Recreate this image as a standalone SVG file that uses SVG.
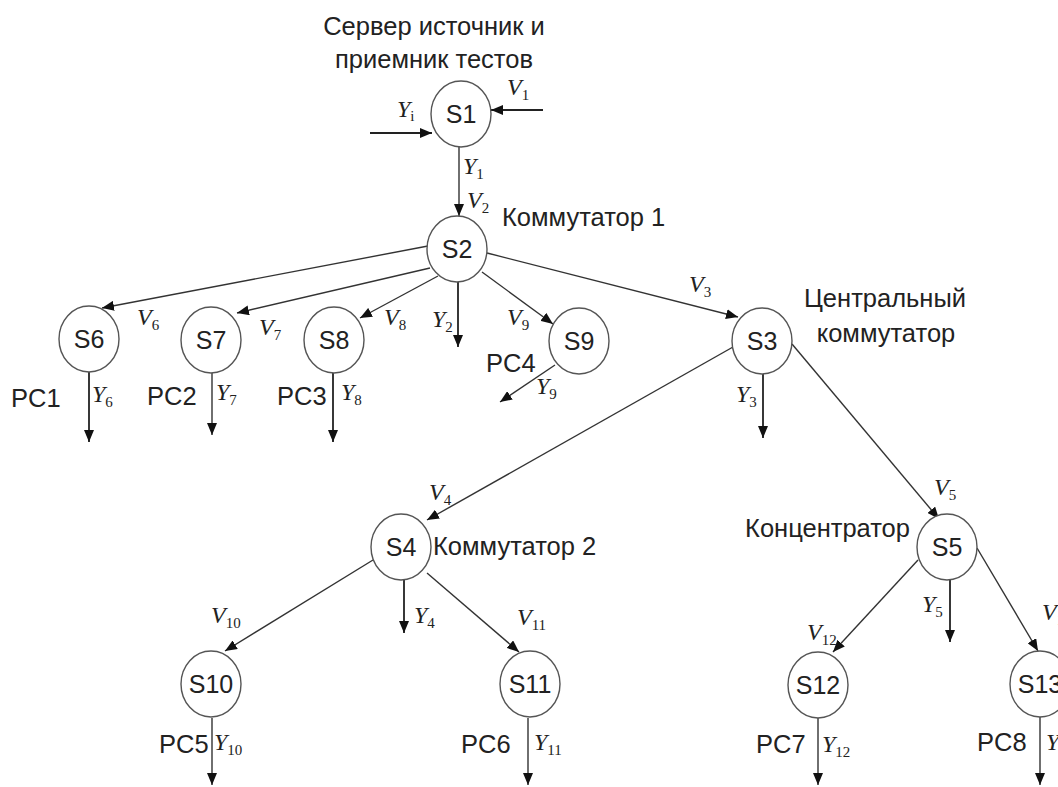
<svg xmlns="http://www.w3.org/2000/svg" width="1058" height="787" viewBox="0 0 1058 787">
<defs>
<marker id="ah" markerUnits="userSpaceOnUse" markerWidth="12" markerHeight="10" refX="12" refY="5" orient="auto">
<path d="M0,0 L12,5 L0,10 z" fill="#111"/>
</marker>
<style>
.node ellipse{fill:#fff;stroke:#555;stroke-width:1.4}
.node text{font-family:"Liberation Sans",Arial,sans-serif;font-size:25px;fill:#222;text-anchor:middle}
.lbl{font-family:"Liberation Sans",Arial,sans-serif;font-size:25.5px;fill:#222}
.m{font-family:"Liberation Serif","Times New Roman",serif;font-style:italic;font-size:24px;fill:#222}
.m tspan{font-style:normal;font-size:15px}
#connectors line{stroke:#333;stroke-width:1.4;marker-end:url(#ah)}
#connectors line.out{stroke:#222;stroke-width:1.8}
</style>
</defs>
<rect width="1058" height="787" fill="#fff"/>

<g id="connectors">
<line x1="370" y1="133" x2="432" y2="133" class="out"/>
<line x1="543" y1="110" x2="491" y2="110" class="out"/>
<line x1="459" y1="147" x2="459" y2="216"/>
<line x1="428" y1="246" x2="102" y2="308"/>
<line x1="430" y1="268" x2="237" y2="313"/>
<line x1="438" y1="276" x2="360" y2="318"/>
<line x1="458" y1="282" x2="458" y2="347" class="out"/>
<line x1="482" y1="272" x2="553" y2="324"/>
<line x1="487" y1="253" x2="738" y2="317"/>
<line x1="89" y1="372" x2="89" y2="442" class="out"/>
<line x1="212" y1="373" x2="212" y2="435"/>
<line x1="333" y1="373" x2="333" y2="442" class="out"/>
<line x1="555" y1="365" x2="500" y2="402"/>
<line x1="763" y1="374" x2="763" y2="438" class="out"/>
<line x1="733" y1="347" x2="427" y2="520"/>
<line x1="792" y1="344" x2="939" y2="519"/>
<line x1="373" y1="560" x2="225" y2="651"/>
<line x1="404" y1="580" x2="404" y2="633" class="out"/>
<line x1="427" y1="573" x2="519" y2="652"/>
<line x1="918" y1="560" x2="833" y2="652"/>
<line x1="950" y1="580" x2="950" y2="642" class="out"/>
<line x1="977" y1="548" x2="1038" y2="651"/>
<line x1="212" y1="718" x2="212" y2="785"/>
<line x1="528" y1="718" x2="528" y2="785"/>
<line x1="818" y1="718" x2="818" y2="785"/>
<line x1="1040" y1="717" x2="1040" y2="785"/>
</g>

<g id="S1" class="node"><ellipse cx="461" cy="114" rx="30" ry="33"/><text x="461" y="123">S1</text></g>
<g id="S2" class="node"><ellipse cx="457" cy="249" rx="30" ry="33"/><text x="457" y="258">S2</text></g>
<g id="S3" class="node"><ellipse cx="762" cy="341" rx="30" ry="33"/><text x="762" y="350">S3</text></g>
<g id="S4" class="node"><ellipse cx="401" cy="547" rx="30" ry="33"/><text x="401" y="556">S4</text></g>
<g id="S5" class="node"><ellipse cx="947" cy="547" rx="30" ry="33"/><text x="947" y="556">S5</text></g>
<g id="S6" class="node"><ellipse cx="89" cy="339" rx="30" ry="33"/><text x="89" y="348">S6</text></g>
<g id="S7" class="node"><ellipse cx="211" cy="340" rx="30" ry="33"/><text x="211" y="349">S7</text></g>
<g id="S8" class="node"><ellipse cx="334" cy="340" rx="30" ry="33"/><text x="334" y="349">S8</text></g>
<g id="S9" class="node"><ellipse cx="579" cy="341" rx="30" ry="33"/><text x="579" y="350">S9</text></g>
<g id="S10" class="node"><ellipse cx="211" cy="684" rx="30" ry="33"/><text x="211" y="693">S10</text></g>
<g id="S11" class="node"><ellipse cx="530" cy="684" rx="30" ry="33"/><text x="530" y="693">S11</text></g>
<g id="S12" class="node"><ellipse cx="818" cy="685" rx="30" ry="33"/><text x="818" y="694">S12</text></g>
<g id="S13" class="node"><ellipse cx="1040" cy="684" rx="30" ry="33"/><text x="1040" y="693">S13</text></g>

<g id="labels">
<text class="lbl" x="434" y="35" text-anchor="middle">Сервер источник и</text>
<text class="lbl" x="434" y="68" text-anchor="middle">приемник тестов</text>
<text class="lbl" x="502" y="226">Коммутатор 1</text>
<text class="lbl" x="885" y="307" text-anchor="middle">Центральный</text>
<text class="lbl" x="886" y="342" text-anchor="middle">коммутатор</text>
<text class="lbl" x="433" y="555">Коммутатор 2</text>
<text class="lbl" x="910" y="537" text-anchor="end">Концентратор</text>
<text class="lbl" x="11" y="407">PC1</text>
<text class="lbl" x="147" y="405">PC2</text>
<text class="lbl" x="277" y="405">PC3</text>
<text class="lbl" x="486" y="372">PC4</text>
<text class="lbl" x="159" y="753">PC5</text>
<text class="lbl" x="461" y="753">PC6</text>
<text class="lbl" x="756" y="753">PC7</text>
<text class="lbl" x="977" y="751">PC8</text>
</g>

<g id="math">
<text class="m" x="397" y="117">Y<tspan dy="4">i</tspan></text>
<text class="m" x="507" y="95">V<tspan dy="5">1</tspan></text>
<text class="m" x="463" y="174">Y<tspan dy="5">1</tspan></text>
<text class="m" x="467" y="208">V<tspan dy="5">2</tspan></text>
<text class="m" x="137" y="325">V<tspan dy="5">6</tspan></text>
<text class="m" x="259" y="335">V<tspan dy="5">7</tspan></text>
<text class="m" x="384" y="325">V<tspan dy="5">8</tspan></text>
<text class="m" x="432" y="327">Y<tspan dy="5">2</tspan></text>
<text class="m" x="507" y="325">V<tspan dy="5">9</tspan></text>
<text class="m" x="689" y="292">V<tspan dy="5">3</tspan></text>
<text class="m" x="536" y="394">Y<tspan dy="5">9</tspan></text>
<text class="m" x="736" y="402">Y<tspan dy="5">3</tspan></text>
<text class="m" x="92" y="402">Y<tspan dy="5">6</tspan></text>
<text class="m" x="216" y="400">Y<tspan dy="5">7</tspan></text>
<text class="m" x="341" y="400">Y<tspan dy="5">8</tspan></text>
<text class="m" x="429" y="500">V<tspan dy="5">4</tspan></text>
<text class="m" x="934" y="495">V<tspan dy="5">5</tspan></text>
<text class="m" x="211" y="623">V<tspan dy="5">10</tspan></text>
<text class="m" x="414" y="623">Y<tspan dy="5">4</tspan></text>
<text class="m" x="517" y="625">V<tspan dy="5">11</tspan></text>
<text class="m" x="922" y="612">Y<tspan dy="5">5</tspan></text>
<text class="m" x="807" y="640">V<tspan dy="5">12</tspan></text>
<text class="m" x="1042" y="620">V<tspan dy="5">13</tspan></text>
<text class="m" x="214" y="750">Y<tspan dy="5">10</tspan></text>
<text class="m" x="534" y="750">Y<tspan dy="5">11</tspan></text>
<text class="m" x="822" y="752">Y<tspan dy="5">12</tspan></text>
<text class="m" x="1046" y="750">Y<tspan dy="5">13</tspan></text>
</g>
</svg>
